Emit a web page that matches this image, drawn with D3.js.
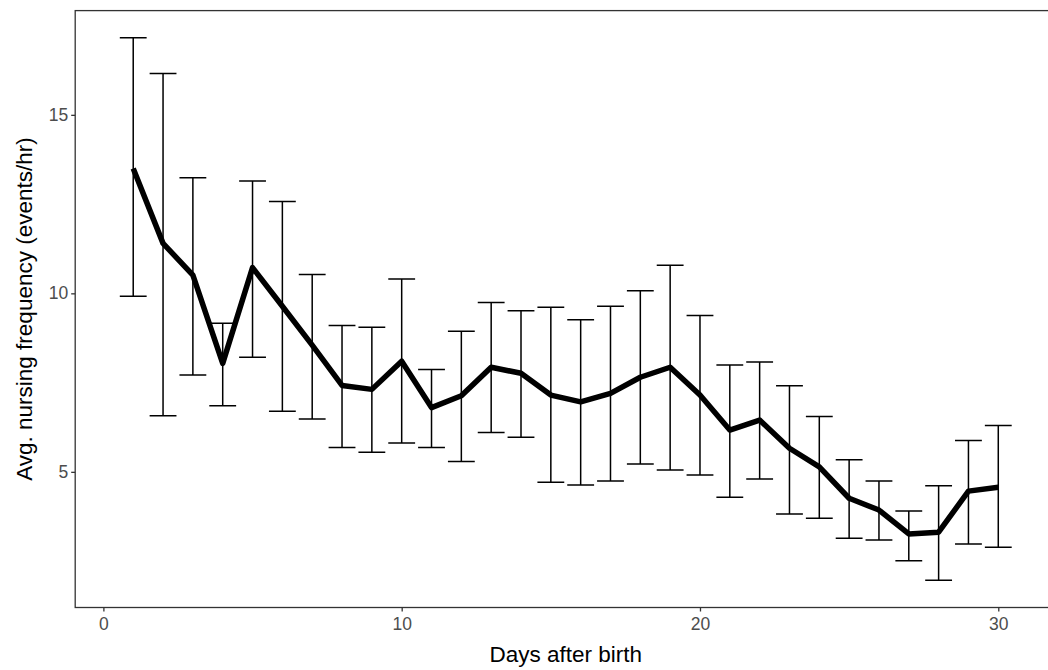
<!DOCTYPE html>
<html>
<head>
<meta charset="utf-8">
<script src="https://cdn.jsdelivr.net/npm/d3@7/dist/d3.min.js"></script>
<style>
  html, body { margin: 0; padding: 0; background: #fff; }
  svg { display: block; font-family: "Liberation Sans", Arial, sans-serif; }
</style>
</head>
<body>
<svg id="chart" width="1048" height="670"></svg>
<script>
const days  = [1,2,3,4,5,6,7,8,9,10,11,12,13,14,15,16,17,18,19,20,21,22,23,24,25,26,27,28,29,30];
const means = [13.5,11.4,10.51,8.04,10.72,9.64,8.55,7.42,7.31,8.10,6.80,7.13,7.93,7.76,7.15,6.96,7.20,7.65,7.93,7.15,6.17,6.45,5.66,5.14,4.26,3.93,3.26,3.31,4.46,4.57];
const upper = [17.16,16.16,13.24,9.16,13.15,12.57,10.53,9.10,9.05,10.40,7.87,8.94,9.74,9.51,9.61,9.26,9.64,10.07,10.79,9.38,7.99,8.08,7.41,6.55,5.34,4.74,3.90,4.61,5.88,6.30];
const lower = [9.92,6.57,7.71,6.85,8.21,6.70,6.48,5.68,5.55,5.81,5.68,5.29,6.10,5.97,4.71,4.63,4.74,5.22,5.05,4.91,4.29,4.80,3.82,3.70,3.14,3.09,2.51,1.96,2.98,2.89];
const xTicks = [0,10,20,30];
const yTicks = [5,10,15];
const xTitle = "Days after birth";
const yTitle = "Avg. nursing frequency (events/hr)";

(function () {
const data = days.map((d,i) => ({day:d, mean:means[i], lo:lower[i], hi:upper[i]}));

const svg = d3.select("#chart");
const capW = 0.9;

// ggplot-style domains with 5% expansion
const xMin = d3.min(days) - capW/2, xMax = d3.max(days) + capW/2;
const xPad = (xMax - xMin) * 0.05;
const yMin = d3.min(lower), yMax = d3.max(upper);
const yPad = (yMax - yMin) * 0.05;

const x = d3.scaleLinear().domain([xMin - xPad, xMax + xPad]).range([75.2, 1056.3]);
const y = d3.scaleLinear().domain([yMin - yPad, yMax + yPad]).range([607.5, 10.6]);

const pL = x.range()[0], pR = x.range()[1];
const pT = y.range()[1], pB = y.range()[0];

// Error bars
const eb = svg.append("g").attr("stroke", "#000").attr("stroke-width", 1.5).attr("fill", "none");
eb.selectAll("path.eb").data(data).join("path")
  .attr("class", "eb")
  .attr("d", d => {
    const xc = x(d.day), x0 = x(d.day - capW/2), x1 = x(d.day + capW/2);
    return `M${x0},${y(d.hi)}H${x1}M${xc},${y(d.hi)}V${y(d.lo)}M${x0},${y(d.lo)}H${x1}`;
  });

// Mean line
svg.append("path")
  .datum(data)
  .attr("fill", "none")
  .attr("stroke", "#000")
  .attr("stroke-width", 5.5)
  .attr("stroke-linejoin", "round")
  .attr("d", d3.line().x(d => x(d.day)).y(d => y(d.mean)));

// Panel border
svg.append("rect")
  .attr("x", pL).attr("y", pT)
  .attr("width", pR - pL).attr("height", pB - pT)
  .attr("fill", "none").attr("stroke", "#333").attr("stroke-width", 1.3);

// Axes
const xAxis = d3.axisBottom(x).tickValues(xTicks).tickSize(4).tickPadding(6).tickFormat(d3.format("d"));
const yAxis = d3.axisLeft(y).tickValues(yTicks).tickSize(4).tickPadding(3).tickFormat(d3.format("d"));

const gx = svg.append("g").attr("transform", `translate(0,${pB})`).call(xAxis);
const gy = svg.append("g").attr("transform", `translate(${pL},0)`).call(yAxis);
[gx, gy].forEach(g => {
  g.select(".domain").remove();
  g.selectAll(".tick line").attr("stroke", "#333").attr("stroke-width", 1.3);
  g.selectAll(".tick text").attr("fill", "#4d4d4d").style("font-size", "17.5px")
    .style("font-family", '"Liberation Sans", Arial, sans-serif');
});

// Axis titles
svg.append("text")
  .attr("x", (pL + pR) / 2).attr("y", 662)
  .attr("text-anchor", "middle")
  .style("font-size", "22.5px").attr("fill", "#000")
  .text(xTitle);

svg.append("text")
  .attr("transform", `translate(32,${(pT + pB) / 2}) rotate(-90)`)
  .attr("text-anchor", "middle")
  .style("font-size", "22.5px").attr("fill", "#000")
  .text(yTitle);
})();
</script>
</body>
</html>
